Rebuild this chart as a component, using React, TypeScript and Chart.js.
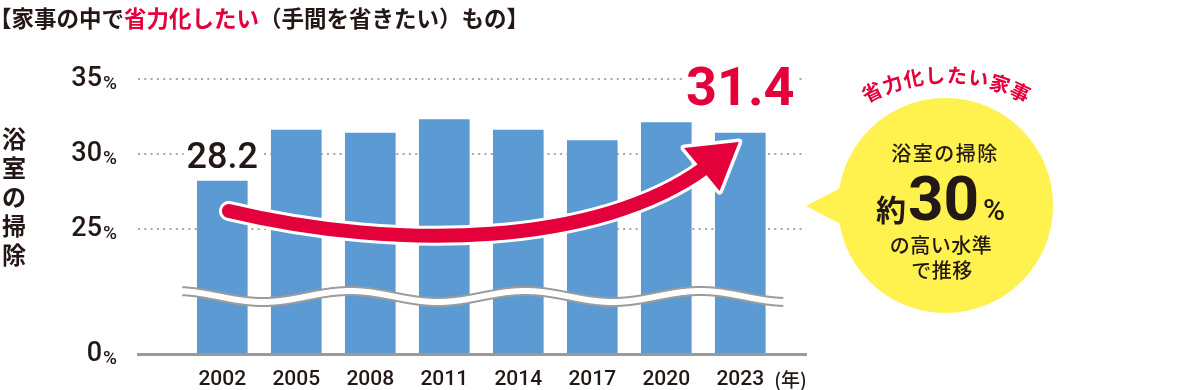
import { useEffect, useRef } from 'react';
import { Chart, registerables } from 'chart.js';

Chart.register(...registerables);

// ---- data ----
const years = ['2002', '2005', '2008', '2011', '2014', '2017', '2020', '2023'];
const shares = [28.2, 31.6, 31.4, 32.3, 31.6, 30.9, 32.1, 31.4];
const yTicks = [25, 30, 35];
const yFloor = 16.667; // value at the broken axis, labelled "0%"
const yCeil = 35.333;
const labelledBars = [0, 7];
const yearUnit = '(年)';
const titleParts: [string, string][] = [
  ['【家事の中で', 'dark'],
  ['省力化したい', 'red'],
  ['（手間を省きたい）もの】', 'dark'],
];
const yTitleChars = ['浴', '室', 'の', '掃', '除'];
const calloutArcText = '省力化したい家事';
const calloutHead = '浴室の掃除';
const calloutPrefix = '約';
const calloutNumber = '30';
const calloutUnit = '%';
const calloutTail = ['の高い水準', 'で推移'];

// trend arrow in (category index, value) units
const arrowPath = [
  [0.09, 26.2],
  [2.4, 23.47],
  [5.1, 23.93],
  [6.52, 29.07],
];
const arrowHead = [
  [6.98, 30.8],
  [6.24, 30.4],
  [6.72, 27.53],
];

// ---- style ----
const DARK = '#231815';
const RED = '#e4003a';
const BLUE = '#5b9ad3';
const YELLOW = '#fff24f';
const FONT_NUM = 'Roboto, "Noto Sans", sans-serif';
const FONT_JP = '"Noto Sans CJK JP", "Noto Sans", sans-serif';

const decorPlugin = {
  id: 'decor',
  afterDatasetsDraw(chart: any) {
    const { ctx, chartArea } = chart;
    const xs = chart.scales.x;
    const ys = chart.scales.y;
    ctx.save();

    // axis break (wavy band)
    const first = xs.getPixelForValue(0);
    const last = xs.getPixelForValue(years.length - 1);
    const bx0 = first - 40;
    const bx1 = last + 43;
    const crest = first - 47;
    const period = 175;
    const upperBase = chartArea.bottom - 61.5;
    const amp = 5.5;
    const gap = 8;
    const up = (x: number) => upperBase - amp * Math.cos((2 * Math.PI * (x - crest)) / period);
    ctx.beginPath();
    ctx.moveTo(bx0, up(bx0));
    for (let x = bx0; x <= bx1; x += 1) ctx.lineTo(x, up(x));
    for (let x = bx1; x >= bx0; x -= 1) ctx.lineTo(x, up(x) + gap);
    ctx.closePath();
    ctx.fillStyle = '#ffffff';
    ctx.fill();
    ctx.strokeStyle = '#9c9c9c';
    ctx.lineWidth = 2;
    for (const off of [0, gap]) {
      ctx.beginPath();
      ctx.moveTo(bx0, up(bx0) + off);
      for (let x = bx0; x <= bx1; x += 1) ctx.lineTo(x, up(x) + off);
      ctx.stroke();
    }

    // trend arrow
    const P = arrowPath.map(([i, v]) => [xs.getPixelForValue(i), ys.getPixelForValue(v)]);
    const H = arrowHead.map(([i, v]) => [xs.getPixelForValue(i), ys.getPixelForValue(v)]);
    const shaft = () => {
      ctx.beginPath();
      ctx.moveTo(P[0][0], P[0][1]);
      ctx.bezierCurveTo(P[1][0], P[1][1], P[2][0], P[2][1], P[3][0], P[3][1]);
    };
    const head = () => {
      ctx.beginPath();
      ctx.moveTo(H[0][0], H[0][1]);
      ctx.lineTo(H[1][0], H[1][1]);
      ctx.lineTo(H[2][0], H[2][1]);
      ctx.closePath();
    };
    ctx.lineCap = 'round';
    ctx.lineJoin = 'round';
    ctx.strokeStyle = '#ffffff';
    ctx.lineWidth = 20;
    shaft();
    ctx.stroke();
    ctx.lineWidth = 7;
    head();
    ctx.stroke();
    ctx.fillStyle = '#ffffff';
    ctx.fill();
    ctx.strokeStyle = RED;
    ctx.lineWidth = 14;
    shaft();
    ctx.stroke();
    ctx.fillStyle = RED;
    head();
    ctx.fill();

    // value labels
    const meta = chart.getDatasetMeta(0);
    ctx.textAlign = 'center';
    ctx.textBaseline = 'alphabetic';
    labelledBars.forEach((idx, k) => {
      const el = meta.data[idx];
      const txt = shares[idx].toFixed(1);
      const big = k === labelledBars.length - 1;
      ctx.font = big ? `700 54px ${FONT_NUM}` : `500 36px ${FONT_NUM}`;
      const y = el.y - (big ? 28 : 13);
      const w = ctx.measureText(txt).width;
      const h = big ? 40 : 27;
      ctx.fillStyle = '#ffffff';
      ctx.fillRect(el.x - w / 2 - 3, y - h - 2, w + 6, h + 4);
      ctx.fillStyle = big ? RED : DARK;
      ctx.fillText(txt, el.x, y);
    });
    ctx.restore();
  },
  afterDraw(chart: any) {
    const { ctx } = chart;
    const ys = chart.scales.y;
    const xs = chart.scales.x;
    ctx.save();

    // % after y tick numbers
    ctx.fillStyle = DARK;
    ctx.font = `500 19px ${FONT_NUM}`;
    ctx.textAlign = 'left';
    ctx.textBaseline = 'alphabetic';
    ys.ticks.forEach((t: any) => {
      const py = ys.getPixelForValue(t.value);
      ctx.fillText('%', 103, py + 10);
    });

    // (年)
    ctx.font = `500 19px ${FONT_JP}`;
    ctx.textBaseline = 'middle';
    ctx.fillText(yearUnit, xs.getPixelForValue(years.length - 1) + 34, 380);

    // title
    ctx.font = `700 22.5px ${FONT_JP}`;
    ctx.textBaseline = 'middle';
    let tx = -11;
    titleParts.forEach(([s, c]) => {
      ctx.fillStyle = c === 'red' ? RED : DARK;
      ctx.fillText(s, tx, 18);
      tx += ctx.measureText(s).width;
    });

    // vertical y title
    ctx.fillStyle = DARK;
    ctx.font = `700 24px ${FONT_JP}`;
    ctx.textAlign = 'center';
    yTitleChars.forEach((ch, i) => ctx.fillText(ch, 14, 139 + i * 29));

    // callout bubble
    const cx = 945.5;
    const cy = 205.5;
    const r = 107.5;
    ctx.fillStyle = YELLOW;
    ctx.beginPath();
    ctx.arc(cx, cy, r, 0, Math.PI * 2);
    ctx.fill();
    ctx.beginPath();
    ctx.moveTo(806, 206);
    ctx.lineTo(850, 183);
    ctx.lineTo(850, 229);
    ctx.closePath();
    ctx.fill();

    // curved heading
    ctx.fillStyle = RED;
    ctx.font = `700 20px ${FONT_JP}`;
    ctx.textAlign = 'center';
    ctx.textBaseline = 'middle';
    const acx = 946;
    const acy = 244.5;
    const R = 169.5;
    const chars = Array.from(calloutArcText);
    const step = (7.4 * Math.PI) / 180;
    const start = -((chars.length - 1) / 2) * step;
    chars.forEach((ch, i) => {
      const th = start + i * step;
      ctx.save();
      ctx.translate(acx + R * Math.sin(th), acy - R * Math.cos(th));
      ctx.rotate(th);
      ctx.fillText(ch, 0, 0);
      ctx.restore();
    });

    // bubble text
    ctx.fillStyle = DARK;
    ctx.font = `500 20px ${FONT_JP}`;
    (ctx as any).letterSpacing = '1.5px';
    ctx.fillText(calloutHead, 945, 153);
    (ctx as any).letterSpacing = '0.5px';
    ctx.fillText(calloutTail[0], 941, 245);
    ctx.fillText(calloutTail[1], 942, 270);
    (ctx as any).letterSpacing = '0px';

    ctx.textAlign = 'left';
    ctx.textBaseline = 'alphabetic';
    ctx.font = `700 30px ${FONT_JP}`;
    ctx.fillText(calloutPrefix, 876, 221);
    ctx.font = `700 62px ${FONT_NUM}`;
    ctx.fillText(calloutNumber, 908, 220);
    ctx.font = `500 30px ${FONT_NUM}`;
    ctx.fillText(calloutUnit, 983, 220);

    ctx.restore();
  },
};

export default function App() {
  const ref = useRef<HTMLCanvasElement | null>(null);

  useEffect(() => {
    const canvas = ref.current;
    if (!canvas) return;
    const chart = new Chart(canvas, {
      type: 'bar',
      data: {
        datasets: [
          {
            data: shares.map((v, i) => ({ x: i, y: v })),
            backgroundColor: BLUE,
            barThickness: 50,
            borderWidth: 0,
          },
        ],
      },
      options: {
        animation: false,
        responsive: false,
        maintainAspectRatio: false,
        events: [],
        layout: { padding: { top: 74, right: 394, bottom: 0, left: 0 } },
        plugins: {
          legend: { display: false },
          tooltip: { enabled: false },
          title: { display: false },
        },
        scales: {
          x: {
            type: 'linear',
            offset: false,
            min: -1.139,
            max: 7.888,
            bounds: 'data',
            grid: { display: false, drawTicks: false, offset: false },
            border: { display: true, color: '#9a9a9a', width: 3, z: 1 },
            afterBuildTicks: (s: any) => {
              s.ticks = years.map((_, i) => ({ value: i }));
            },
            afterFit: (s: any) => {
              s.height = 36;
              s.paddingLeft = 0;
              s.paddingRight = 0;
            },
            ticks: {
              autoSkip: false,
              maxRotation: 0,
              padding: 13,
              color: DARK,
              font: { family: FONT_NUM, size: 21, weight: '500' },
              callback: (v: any) => years[v] ?? '',
            },
          },
          y: {
            type: 'linear',
            min: yFloor,
            max: yCeil,
            bounds: 'data',
            grid: {
              color: (c: any) => (c.tick && c.tick.value < yTicks[0] - 1 ? 'rgba(0,0,0,0)' : '#a8a8a8'),
              lineWidth: 2,
              drawTicks: false,
            },
            border: { display: false, dash: [2, 4.3] },
            afterBuildTicks: (s: any) => {
              s.ticks = [yFloor, ...yTicks].map((v) => ({ value: v }));
            },
            afterFit: (s: any) => {
              s.width = 138;
              s.paddingTop = 0;
              s.paddingBottom = 0;
            },
            ticks: {
              padding: 36,
              color: DARK,
              font: { family: FONT_NUM, size: 27, weight: '500' },
              callback: (v: any) => (v < yTicks[0] - 1 ? '0' : String(v)),
            },
          },
        },
      } as any,
      plugins: [decorPlugin],
    });
    return () => chart.destroy();
  }, []);

  return (
    <div style={{ position: 'fixed', left: 0, top: 0, width: 1200, height: 390, background: '#fff' }}>
      <canvas ref={ref} width={1200} height={390} style={{ width: 1200, height: 390, display: 'block' }} />
    </div>
  );
}
